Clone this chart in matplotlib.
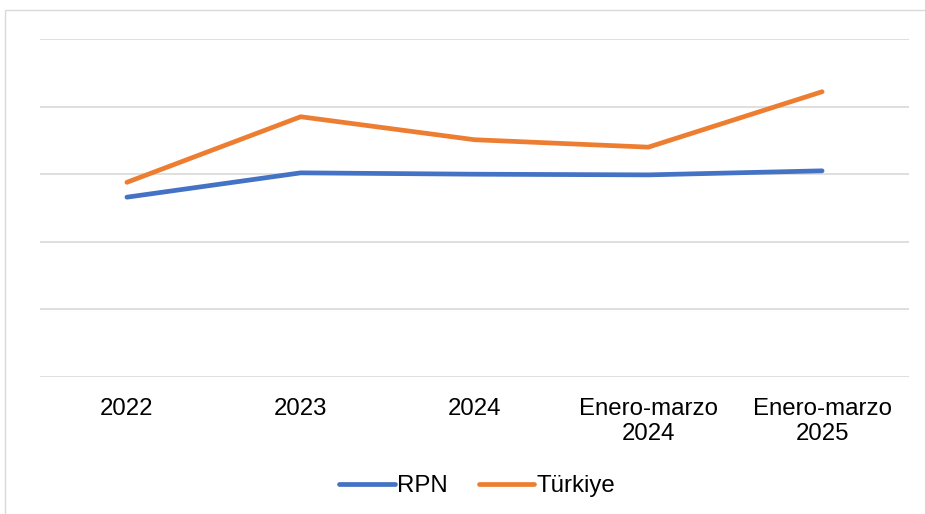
import matplotlib.pyplot as plt
import matplotlib.patches as mpatches

categories = ["2022", "2023", "2024", "Enero-marzo\n2024", "Enero-marzo\n2025"]
rpn = [2.66, 3.02, 3.00, 2.99, 3.05]
turkiye = [2.88, 3.85, 3.51, 3.40, 4.22]

plt.rcParams['font.family'] = ['Liberation Sans', 'DejaVu Sans']

fig = plt.figure(figsize=(9.25, 5.14), dpi=100)
ax = fig.add_axes([40 / 925, 1 - 377 / 514, 869 / 925, 338 / 514])

x = range(len(categories))
ax.plot(x, rpn, color='#4472C4', linewidth=3.4, solid_capstyle='round', label='RPN')
ax.plot(x, turkiye, color='#ED7D31', linewidth=3.4, solid_capstyle='round', label='Türkiye')

ax.set_xlim(-0.5, len(categories) - 0.5)
ax.set_ylim(0, 5)
ax.set_yticks(range(6))
ax.set_yticklabels([])
ax.tick_params(axis='y', length=0)
ax.tick_params(axis='x', length=0, pad=15, labelsize=17.3)
ax.set_xticks(list(x))
ax.set_xticklabels(categories, color='#000000', linespacing=1.2)
ax.grid(axis='y', color='#D9D9D9', linewidth=1.2)
ax.set_axisbelow(True)
for s in ['top', 'right', 'left', 'bottom']:
    ax.spines[s].set_visible(False)

fig.legend(loc='center', bbox_to_anchor=(0.5 + 15 / 925, 1 - 486 / 514), ncol=2, frameon=False,
           fontsize=17.3, handlelength=2.3, handletextpad=0.1, columnspacing=1.3)

# outer chart border
fig.patches.append(mpatches.Rectangle((5 / 925, -0.01), 930 / 925, 1 - 10 / 514 + 0.01,
                                      transform=fig.transFigure, fill=False,
                                      edgecolor='#D9D9D9', linewidth=1.0))

fig.savefig('out.png', dpi=100)
